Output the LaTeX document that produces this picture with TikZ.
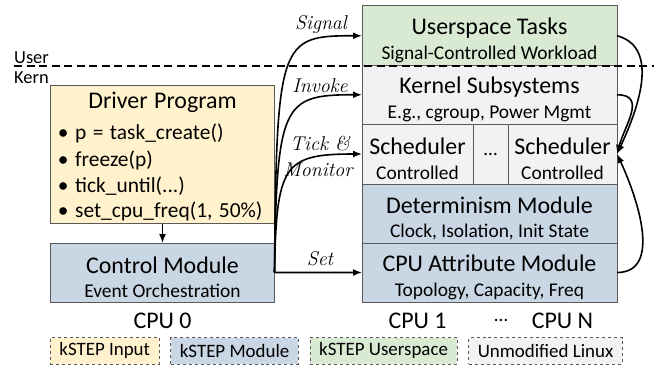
\documentclass[tikz,border=0pt]{standalone}
\usepackage{fontspec}
\setmainfont{Carlito}
\usetikzlibrary{positioning,arrows.meta}

\definecolor{inpyellow}{HTML}{FFF2CC}
\definecolor{modblue}{HTML}{C9D6E4}
\definecolor{usrgreen}{HTML}{D9EAD3}
\definecolor{lnxgray}{HTML}{F2F2F2}
\definecolor{edgegray}{HTML}{595959}

\newcommand{\boxtitle}{\fontsize{24}{28}\selectfont}
\newcommand{\boxsub}{\fontsize{19.5}{24.5}\selectfont}
\newcommand{\boxhead}[1]{{\boxtitle\rule{0pt}{26bp}#1}}
\newcommand{\legfont}{\fontsize{19}{22}\selectfont}
\newcommand{\sidefont}{\fontsize{18.5}{22}\selectfont}
\newcommand{\handfont}{\fontfamily{lmr}\itshape\fontsize{20}{22}\selectfont}

\begin{document}
\begin{tikzpicture}[x=1bp, y=1bp, >={Latex[length=9bp, width=7bp]}]
    \tikzstyle{box} = [draw=edgegray, line width=1bp, inner sep=0pt, outer sep=0pt, align=center, font=\boxsub]
    \tikzstyle{inp} = [box, fill=inpyellow]
    \tikzstyle{mod} = [box, fill=modblue]
    \tikzstyle{usr} = [box, fill=usrgreen]
    \tikzstyle{lnx} = [box, fill=lnxgray]
    \tikzstyle{lgd} = [draw=edgegray, dashed, line width=0.8bp, inner xsep=9bp, inner ysep=0pt, minimum height=26.5bp, font=\legfont]
    \tikzstyle{cpu} = [inner sep=0pt, font=\boxtitle]
    \tikzstyle{hand} = [inner sep=0pt, font=\handfont]
    \tikzstyle{link} = [->, line width=1.6bp]

    \useasboundingbox (0,0) rectangle (654,365);

    % right stack, CPU 1 .. CPU N
    \node (ust) [usr, minimum width=255bp, minimum height=59.5bp] at (489.5,329.25)
        {\boxhead{Userspace Tasks}\\Signal-Controlled Workload};
    \node (ks) [lnx, minimum width=255bp, minimum height=58.5bp] [below=0pt of ust]
        {\boxhead{Kernel Subsystems}\\E.g., cgroup, Power Mgmt};
    \node (schedL) [lnx, minimum width=111bp, minimum height=60bp] [below right=0pt and 0pt of ks.south west]
        {\boxhead{Scheduler}\\Controlled};
    \node (skip) [lnx, minimum width=35bp, minimum height=60bp] [right=0pt of schedL] {\dots};
    \node (schedR) [lnx, minimum width=109bp, minimum height=60bp] [right=0pt of skip]
        {\boxhead{Scheduler}\\Controlled};
    \node (dm) [mod, minimum width=255bp, minimum height=59bp] [below right=0pt and 0pt of schedL.south west]
        {\boxhead{Determinism Module}\\Clock, Isolation, Init State};
    \node (cpa) [mod, minimum width=255bp, minimum height=59bp] [below=0pt of dm]
        {\boxhead{CPU Attribute Module}\\Topology, Capacity, Freq};

    % left side, CPU 0
    \node (drv) [inp, minimum width=224bp, minimum height=138.5bp, text width=209bp, align=left] at (162.5,210.75)
        {\centering{\boxtitle\rule{0pt}{20.5bp}Driver Program}\par
         \vspace{5bp}
         \raggedright\fontsize{21.5}{26.5}\selectfont
         \textbullet\ p = task\_create()\\
         \textbullet\ freeze(p)\\
         \textbullet\ tick\_until(...)\\
         \textbullet\ set\_cpu\_freq(1, 50\%)};
    \node (ctl) [mod, minimum width=224bp, minimum height=59bp] [below=19.5bp of drv]
        {\boxhead{Control Module}\\Event Orchestration};

    % cpu labels
    \node (cpu0) [cpu, anchor=north] at ([yshift=-10.5bp] ctl.south) {CPU 0};
    \node (cpu1) [cpu, anchor=north] at ([yshift=-10.5bp] cpa.south -| schedL) {CPU 1};
    \node (cpuN) [cpu, anchor=north] at ([yshift=-10.5bp] cpa.south -| schedR) {CPU N};
    \node (cpudots) [inner sep=0pt, font=\boxsub] at (501,45) {\dots};

    % user / kernel boundary
    \draw [dash pattern=on 8bp off 4.5bp, line width=1.5bp] (14,299) -- (654,299);
    \node (user) [anchor=base west, inner sep=0pt, font=\sidefont] at (14,302) {User};
    \node (kern) [anchor=base west, inner sep=0pt, font=\sidefont] at (14,282) {Kern};

    % links from the control module
    \draw [link] (drv) -- (ctl);
    \draw [link] (ctl.east) .. controls +(2,232.5) and +(-82,0) .. (ust.west);
    \draw [link] (ctl.east) .. controls +(2,169.5) and +(-79,0) .. (ks.west);
    \draw [link] (ctl.east) .. controls +(2,107.5) and +(-79,0) .. (schedL.west);
    \draw [link] (ctl.east) -- (cpa.west);
    \node (lsig) [hand] at (321,340) {Signal};
    \node (linv) [hand] at (320,279) {Invoke};
    \node (ltick) [hand] at (320,221) {Tick \&};
    \node (lmon) [hand] at (318,195) {Monitor};
    \node (lset) [hand] at (320,106) {Set};

    % feedback into the scheduler
    \draw [link] (ust.east) to [out=-15, in=65] (schedR.east);
    \draw [link] (ks.east) to [out=0, in=75, looseness=1.3] (schedR.east);
    \draw [link] (cpa.east) to [out=0, in=-65] (schedR.east);

    % legend
    \node (lg1) [lgd, fill=inpyellow, anchor=west] at (50,14.25) {kSTEP Input};
    \node (lg2) [lgd, fill=modblue] [right=11bp of lg1] {kSTEP Module};
    \node (lg3) [lgd, fill=usrgreen] [right=11bp of lg2] {kSTEP Userspace};
    \node (lg4) [lgd, fill=lnxgray] [right=11bp of lg3] {Unmodified Linux};
\end{tikzpicture}
\end{document}
